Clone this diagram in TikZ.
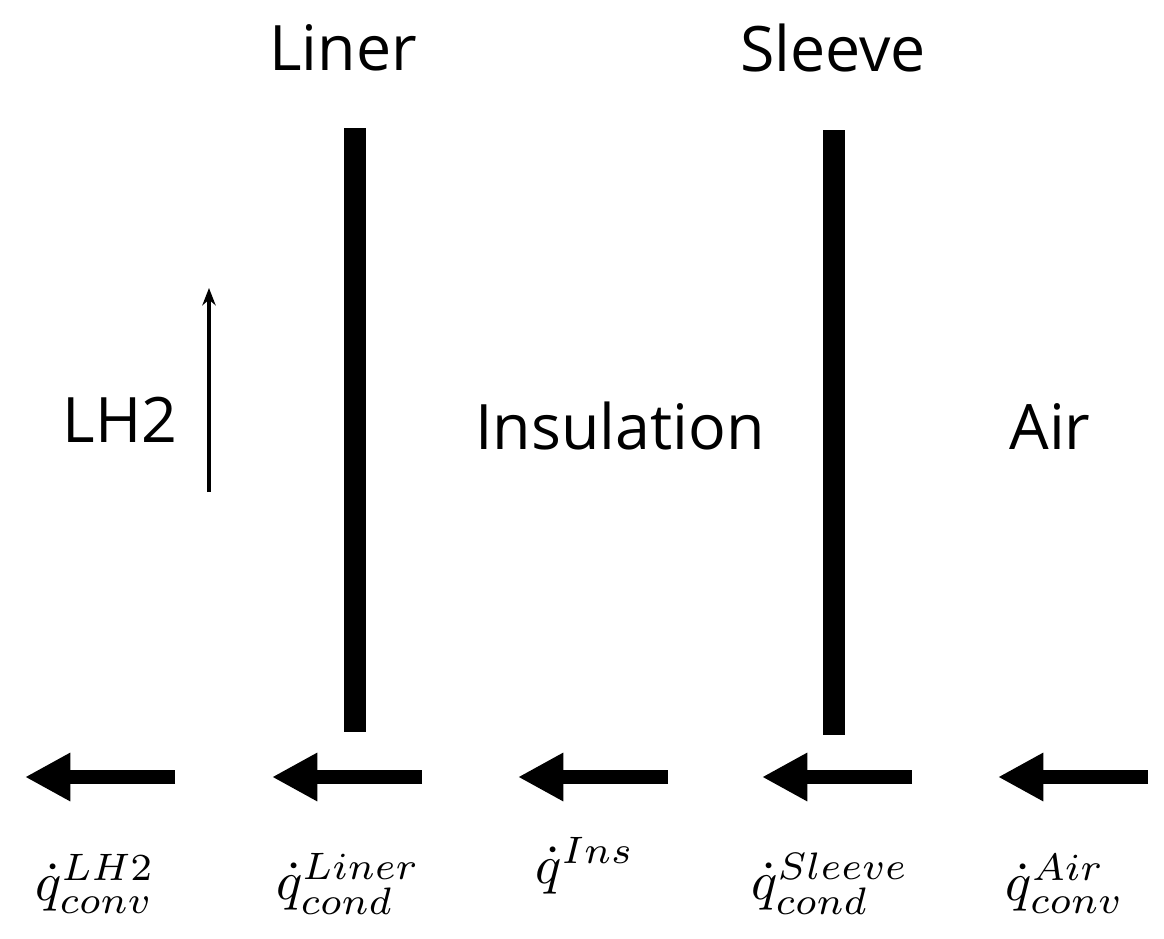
\documentclass[tikz,border=0pt]{standalone}
\usepackage{fontspec}
\setmainfont{Open Sans}
\usepackage{amsmath}
\usetikzlibrary{arrows.meta}
\begin{document}
\begin{tikzpicture}[x=0.75pt,y=-0.75pt,
  wall/.style={line width=16.5pt},
  flux/.style={line width=11pt,-{Triangle[length=34pt,width=34pt]}},
  lab/.style={font=\fontsize{47}{52}\selectfont}]
\useasboundingbox (0,0) rectangle (1164,939);
\node[lab] (liner) at (343,48) {Liner};
\node[lab] (sleeve) at (833,48) {Sleeve};
\node[lab] (lh2) at (120,420) {LH2};
\node[lab] (ins) at (620,426) {Insulation};
\node[lab] (air) at (1050,426) {Air};
\coordinate (l1) at (355,128); \coordinate (l2) at (355,732);
\coordinate (s1) at (834,130); \coordinate (s2) at (834,735);
\draw[wall] (l1) -- (l2);
\draw[wall] (s1) -- (s2);
\coordinate (u1) at (209,492); \coordinate (u2) at (209,288);
\draw[line width=2.5pt,-{Stealth[length=13pt,width=10pt]}] (u1) -- (u2);
\foreach \n/\a/\b in {a/175/25,b/422/272,c/668/518,d/912/762,e/1148/998}{
  \coordinate (\n1) at (\a,777); \coordinate (\n2) at (\b,777);
  \draw[flux] (\n1) -- (\n2);}
\node (q1) at (95,884) {\scalebox{4.1}{$\dot q^{LH2}_{conv}$}};
\node (q2) at (348,884) {\scalebox{4.1}{$\dot q^{Liner}_{cond}$}};
\node (q3) at (585,866) {\scalebox{4.1}{$\dot q^{Ins}$}};
\node (q4) at (830,884) {\scalebox{4.1}{$\dot q^{Sleeve}_{cond}$}};
\node (q5) at (1065,884) {\scalebox{4.1}{$\dot q^{Air}_{conv}$}};
\end{tikzpicture}
\end{document}
